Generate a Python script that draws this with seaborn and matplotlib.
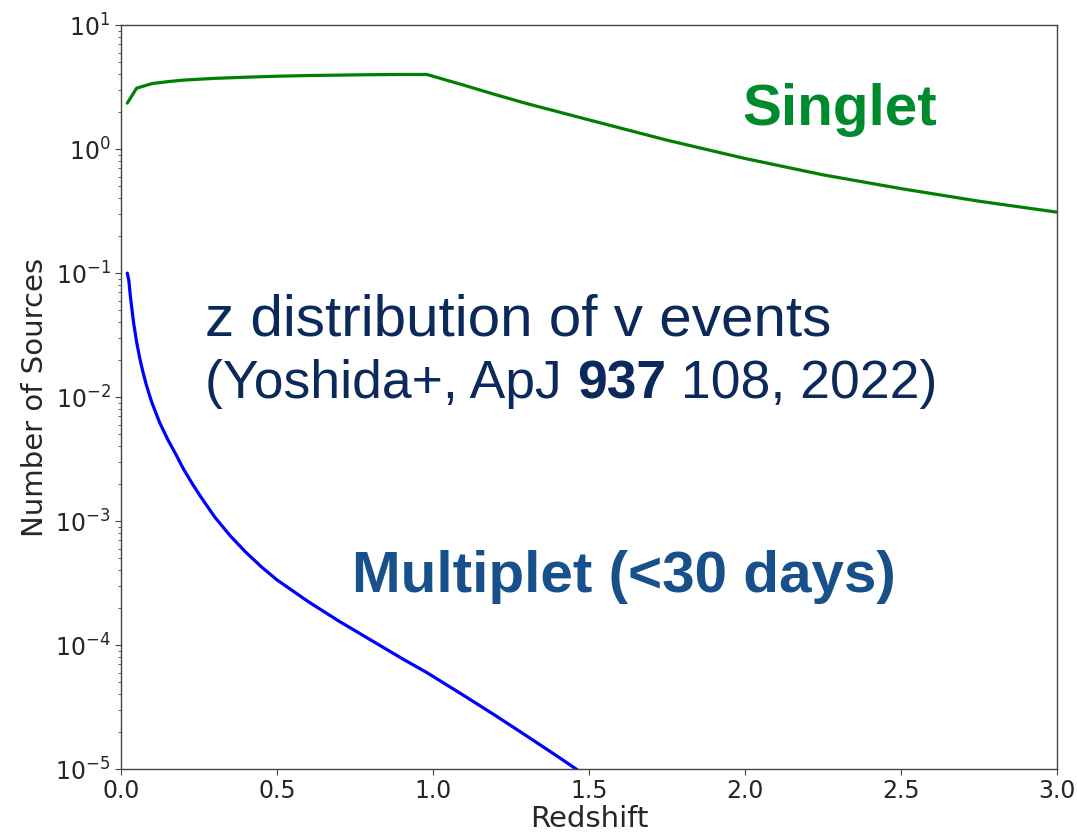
import matplotlib
matplotlib.use("Agg")
import matplotlib.pyplot as plt
import seaborn as sns
import pandas as pd

# Redshift grid and source counts for the two populations
z_singlet = [0.02, 0.05, 0.1, 0.15, 0.2, 0.3, 0.4, 0.5, 0.6, 0.7, 0.8, 0.9, 0.98,
             1.1, 1.2, 1.3, 1.5, 1.75, 2.0, 2.25, 2.5, 2.75, 3.0]
n_singlet = [2.35, 3.1, 3.38, 3.5, 3.6, 3.72, 3.8, 3.87, 3.92, 3.95, 3.98, 4.0, 4.0,
             3.27, 2.75, 2.33, 1.72, 1.18, 0.84, 0.62, 0.48, 0.38, 0.31]

z_multiplet = [0.02, 0.025, 0.03, 0.04, 0.05, 0.06, 0.07, 0.08, 0.092, 0.1, 0.124,
               0.15, 0.177, 0.2, 0.23, 0.26, 0.3, 0.35, 0.4, 0.45, 0.5, 0.6, 0.7,
               0.8, 0.9, 0.98, 1.1, 1.2, 1.3, 1.4, 1.5]
n_multiplet = [0.1, 0.087, 0.0646, 0.040, 0.0277, 0.0205, 0.0160, 0.0128, 0.0102,
               0.00886, 0.0062, 0.00453, 0.00340, 0.00263, 0.00197, 0.00151, 0.00108,
               7.6e-4, 5.6e-4, 4.27e-4, 3.35e-4, 2.24e-4, 1.55e-4, 1.1e-4, 7.8e-5,
               6.0e-5, 3.9e-5, 2.7e-5, 1.85e-5, 1.26e-5, 8.5e-6]

x_ticks = [0.0, 0.5, 1.0, 1.5, 2.0, 2.5, 3.0]

singlet = pd.DataFrame({"z": z_singlet, "n": n_singlet})
multiplet = pd.DataFrame({"z": z_multiplet, "n": n_multiplet})

sns.set_style("ticks")
plt.rcParams["font.family"] = ["DejaVu Sans"]

fig = plt.figure(figsize=(10.77, 8.34), dpi=100)
ax = fig.add_axes([0.1124, 0.0779, 0.869, 0.892])

sns.lineplot(data=singlet, x="z", y="n", ax=ax, color="#008000", linewidth=2.3)
sns.lineplot(data=multiplet, x="z", y="n", ax=ax, color="#0000ff", linewidth=2.3)

ax.set_yscale("log")
ax.set_xlim(0.0, 3.0)
ax.set_ylim(1e-5, 10)
ax.set_xticks(x_ticks)
ax.tick_params(axis="both", which="major", labelsize=17, length=4, color="#444444")
ax.tick_params(axis="y", which="minor", length=2.5, color="#444444")
for spine in ax.spines.values():
    spine.set_color("#444444")
    spine.set_linewidth(1.0)

ax.set_xlabel("Redshift", fontsize=21, labelpad=1)
ax.set_ylabel("Number of Sources", fontsize=21, labelpad=4)

label_font = ["Liberation Sans", "DejaVu Sans"]

ax.text(1.99, 1.56, "Singlet", fontsize=42, fontweight="bold", color="#008a2e",
        family=label_font, ha="left", va="baseline")
ax.text(0.74, 2.67e-4, "Multiplet (<30 days)", fontsize=42, fontweight="bold",
        color="#17508a", family=label_font, ha="left", va="baseline")

navy = "#0b2a5b"
ax.text(0.27, 0.0316, "z distribution of v events", fontsize=42, color=navy,
        family=label_font, ha="left", va="baseline")
ref1 = ax.text(0.27, 0.0098, "(Yoshida+, ApJ ", fontsize=38.5, color=navy,
               family=label_font, ha="left", va="baseline")
ref2 = ax.annotate("937", xy=(1, 0), xycoords=ref1, fontsize=38.5, fontweight="bold",
                   color=navy, family=label_font, ha="left", va="bottom")
ax.annotate(" 108, 2022)", xy=(1, 0), xycoords=ref2, fontsize=38.5, color=navy,
            family=label_font, ha="left", va="bottom")

fig.savefig("out.png", dpi=100)
